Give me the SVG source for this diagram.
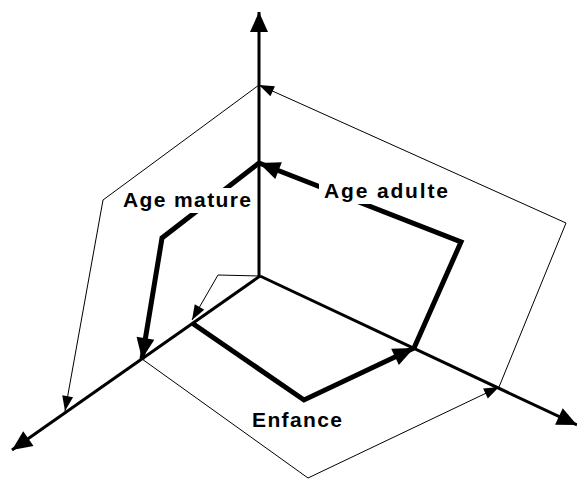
<svg xmlns="http://www.w3.org/2000/svg" width="577" height="479" viewBox="0 0 577 479">
<defs>
<style>
.axis{fill:none;stroke:#000;stroke-width:3;marker-end:url(#ax)}
.thick{fill:none;stroke:#000;stroke-width:5;stroke-linejoin:miter;marker-end:url(#tk)}
.thin{fill:none;stroke:#000;stroke-width:1;marker-end:url(#tn)}
.lbl{font-family:"Liberation Sans",Arial,Helvetica,sans-serif;font-weight:bold;font-size:21px;fill:#000}
.bg{fill:#fff}
</style>
<marker id="ax" markerUnits="userSpaceOnUse" markerWidth="22" markerHeight="20" viewBox="-21 -10 22 20" refX="0" refY="0" orient="auto"><path d="M0,0 L-20,-9 L-20,9 z" fill="#000"/></marker>
<marker id="tk" markerUnits="userSpaceOnUse" markerWidth="24" markerHeight="20" viewBox="-23 -10 24 20" refX="0" refY="0" orient="auto"><path d="M0,0 L-21,-9 L-21,9 z" fill="#000"/></marker>
<marker id="tn" markerUnits="userSpaceOnUse" markerWidth="18" markerHeight="14" viewBox="-17 -7 18 14" refX="0" refY="0" orient="auto"><path d="M0,0 L-15,-5.5 L-15,5.5 z" fill="#000"/></marker>
</defs>
<g id="connectors">
<g id="axes">
<path class="axis" d="M259,276 L259,12"/>
<path class="axis" d="M260,276 L12,450"/>
<path class="axis" d="M260,276 L577,425"/>
</g>
<g id="cycle-outer">
<path class="thin" d="M499,387 L566,223 L259,85"/>
<path class="thin" d="M259,85 L103,200 L65,411"/>
<path class="thin" d="M142,359 L308,478 L499,387"/>
<path class="thin" d="M259,276 L218,275 L192,320"/>
</g>
<g id="cycle-inner">
<path class="thick" d="M192,323 L304,400 L414,348"/>
<path class="thick" d="M414,348 L461,242 L259,163"/>
<path class="thick" d="M259,163 L162,238 L142,359"/>
</g>
</g>
<g id="label-age-mature">
<rect class="bg" x="122" y="188" width="132" height="25"/>
<text class="lbl" x="123" y="207" textLength="128" lengthAdjust="spacing">Age mature</text>
</g>
<g id="label-age-adulte">
<rect class="bg" x="319" y="180" width="132" height="24"/>
<text class="lbl" x="324" y="198" textLength="124" lengthAdjust="spacing">Age adulte</text>
</g>
<g id="label-enfance">
<text class="lbl" x="252" y="427" textLength="90" lengthAdjust="spacing">Enfance</text>
</g>
</svg>
